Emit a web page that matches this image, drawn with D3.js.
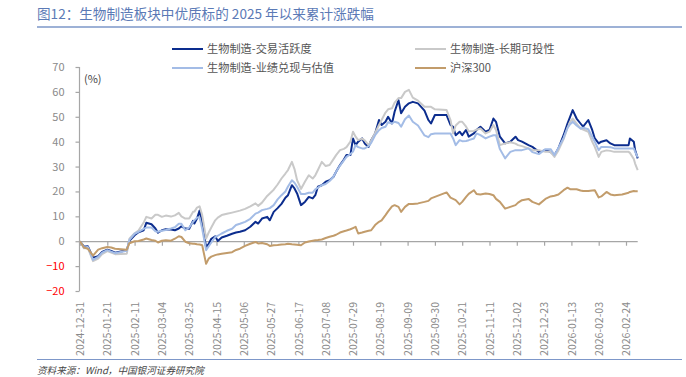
<!DOCTYPE html>
<html lang="zh">
<head>
<meta charset="utf-8">
<script src="https://cdn.jsdelivr.net/npm/d3@7"></script>
<style>
  html, body { margin: 0; padding: 0; background: #fff; }
  svg { display: block; font-family: "Noto Sans CJK SC", "Noto Sans", sans-serif; }
</style>
</head>
<body>
<div id="chart"></div>
<script>
// 1. Data
const dates = [
  "2024-12-31","2025-01-03","2025-01-06","2025-01-10","2025-01-14","2025-01-17","2025-01-21","2025-01-24","2025-01-27","2025-02-05",
  "2025-02-07","2025-02-11","2025-02-14","2025-02-18","2025-02-20","2025-02-24","2025-02-27","2025-03-01","2025-03-04","2025-03-07",
  "2025-03-11","2025-03-14","2025-03-17","2025-03-19","2025-03-22","2025-03-25","2025-03-28","2025-03-29","2025-03-31","2025-04-02",
  "2025-04-04","2025-04-07","2025-04-09","2025-04-11","2025-04-14","2025-04-16","2025-04-19","2025-04-23","2025-04-27","2025-04-30",
  "2025-05-03","2025-05-07","2025-05-11","2025-05-15","2025-05-17","2025-05-20","2025-05-24","2025-05-26","2025-05-29","2025-06-01",
  "2025-06-04","2025-06-07","2025-06-09","2025-06-12","2025-06-14","2025-06-16","2025-06-19","2025-06-22","2025-06-25","2025-06-28",
  "2025-06-30","2025-07-02","2025-07-05","2025-07-08","2025-07-11","2025-07-14","2025-07-16","2025-07-19","2025-07-22","2025-07-24",
  "2025-07-27","2025-07-29","2025-07-31","2025-08-02","2025-08-05","2025-08-07","2025-08-10","2025-08-12","2025-08-15","2025-08-18",
  "2025-08-20","2025-08-23","2025-08-25","2025-08-28","2025-08-30","2025-09-02","2025-09-04","2025-09-07","2025-09-10","2025-09-13",
  "2025-09-17","2025-09-22","2025-09-25","2025-09-27","2025-09-30","2025-10-09","2025-10-12","2025-10-14","2025-10-16","2025-10-19",
  "2025-10-21","2025-10-24","2025-10-26","2025-10-30","2025-11-01","2025-11-04","2025-11-08","2025-11-11","2025-11-14","2025-11-16",
  "2025-11-19","2025-11-23","2025-11-27","2025-12-01","2025-12-03","2025-12-06","2025-12-11","2025-12-14","2025-12-19","2025-12-24",
  "2025-12-28","2025-12-31","2026-01-03","2026-01-07","2026-01-10","2026-01-12","2026-01-14","2026-01-17","2026-01-20","2026-01-22",
  "2026-01-26","2026-01-29","2026-01-31","2026-02-03","2026-02-05","2026-02-09","2026-02-12","2026-02-15","2026-02-21","2026-02-26",
  "2026-02-27","2026-03-02","2026-03-03","2026-03-05"
];

// 生物制造-交易活跃度
const activity = [
  0, -2.2, -2.0, -6.6, -6.0, -4.3, -3.4, -3.9, -4.6, -3.6,
  0.2, 2.4, 3.6, 4.4, 7.4, 6.8, 5.1, 3.4, 4.4, 4.8,
  4.7, 4.4, 5.1, 6.0, 5.1, 5.0, 8.2, 7.1, 9.1, 12.3,
  7.0, -2.4, -1.1, 1.0, 2.0, 0.1, 1.5, 2.2, 3.0, 3.5,
  3.8, 4.4, 5.8, 7.8, 7.1, 9.1, 9.8, 8.4, 11.8, 13.3,
  15.0, 17.5, 18.5, 22.5, 21.2, 19.2, 14.5, 15.8, 17.8, 17.2,
  18.5, 21.9, 22.5, 23.9, 24.5, 25.9, 27.9, 30.6, 32.8, 34.6,
  34.6, 41.3, 38.6, 40.0, 41.3, 39.3, 37.9, 40.6, 43.3, 48.7,
  46.7, 48.0, 50.0, 47.3, 52.0, 56.7, 51.4, 54.0, 55.4, 56.0,
  55.4, 52.5, 48.7, 47.3, 50.7, 50.7, 46.7, 46.0, 42.6, 44.0,
  42.6, 44.7, 42.0, 43.3, 44.7, 46.0, 44.0, 44.7, 49.3, 48.0,
  42.0, 39.3, 40.0, 42.0, 40.6, 40.0, 38.6, 37.9, 35.9, 36.6,
  35.9, 34.6, 37.3, 42.6, 47.3, 50.0, 52.7, 49.3, 47.3, 46.0,
  48.7, 44.7, 41.3, 39.3, 40.0, 40.6, 39.3, 38.6, 38.6, 38.6,
  41.3, 40.0, 36.6, 33.3
];

// 生物制造-长期可投性
const longTerm = [
  0, -2.8, -2.6, -8.0, -7.0, -5.2, -4.0, -4.6, -5.2, -5.0,
  1.0, 3.2, 4.3, 7.5, 9.8, 9.1, 10.6, 10.6, 9.8, 10.3,
  9.9, 10.4, 11.4, 10.0, 9.1, 9.1, 11.8, 11.9, 13.5, 14.0,
  10.5, 1.1, 3.5, 5.5, 8.4, 9.5, 10.5, 11.0, 11.5, 11.9,
  12.3, 13.0, 14.0, 15.2, 14.2, 15.5, 18.2, 19.2, 20.7, 22.8,
  25.2, 27.2, 28.6, 31.9, 29.0, 24.5, 21.0, 23.9, 26.5, 25.2,
  26.5, 28.6, 31.9, 30.2, 30.6, 33.0, 34.6, 36.6, 37.1, 37.8,
  40.0, 44.0, 42.0, 40.6, 41.2, 40.5, 38.6, 40.5, 43.5, 46.7,
  48.7, 51.7, 53.0, 53.4, 55.7, 57.5, 57.5, 60.0, 60.8, 57.7,
  56.5, 54.0, 54.0, 54.0, 53.0, 52.7, 48.7, 43.3, 46.5, 48.0,
  48.0, 46.0, 44.2, 44.3, 44.8, 45.3, 43.3, 44.0, 46.7, 44.7,
  38.6, 39.3, 39.8, 39.2, 38.6, 38.2, 37.3, 36.6, 36.6, 35.9,
  35.9, 33.9, 36.5, 41.0, 45.5, 48.0, 49.3, 47.3, 45.3, 44.9,
  44.0, 40.0, 37.9, 33.9, 35.9, 36.5, 36.3, 35.9, 35.9, 35.9,
  35.5, 33.0, 31.2, 28.6
];

// 生物制造-业绩兑现与估值
const earnings = [
  0, -2.5, -2.3, -7.5, -6.3, -4.6, -3.6, -4.2, -4.8, -3.8,
  0.5, 3.0, 3.8, 5.0, 5.5, 5.5, 4.0, 3.8, 4.2, 4.5,
  5.1, 5.6, 7.0, 7.0, 4.4, 5.5, 7.8, 8.4, 9.5, 9.5,
  5.0, -3.6, -2.0, -0.5, 1.7, 2.2, 3.1, 4.2, 5.0, 6.5,
  7.0, 7.8, 9.0, 11.1, 11.5, 12.5, 13.0, 13.3, 14.5, 16.8,
  18.5, 20.0, 22.0, 24.5, 23.5, 21.9, 19.0, 19.0, 19.5, 19.5,
  20.8, 21.5, 22.5, 23.0, 24.2, 26.0, 27.9, 30.4, 32.5, 33.9,
  35.0, 36.0, 38.6, 37.8, 37.3, 37.3, 38.2, 39.5, 42.6, 44.6,
  45.5, 46.0, 47.8, 47.3, 48.0, 47.5, 46.0, 49.0, 50.5, 48.0,
  46.5, 42.5, 41.8, 43.0, 43.3, 43.3, 43.3, 41.3, 38.6, 40.6,
  40.2, 40.3, 40.6, 41.3, 43.3, 42.6, 41.3, 42.0, 42.6, 42.6,
  37.0, 33.3, 35.9, 36.6, 36.6, 36.6, 37.3, 35.8, 35.0, 37.0,
  37.0, 34.6, 37.5, 41.5, 45.5, 47.0, 48.0, 46.5, 45.3, 45.6,
  45.0, 42.0, 40.0, 36.6, 37.9, 37.9, 37.8, 37.3, 37.3, 37.3,
  37.3, 37.3, 36.0, 33.7
];

// 沪深300
const csi300 = [
  0, -2.5, -3.0, -5.8, -3.4, -2.8, -2.3, -2.5, -3.0, -3.4,
  -0.8, 0.0, 0.1, 0.7, 1.1, 0.5, 0.2, -0.5, 0.2, 0.4,
  0.2, 1.0, 2.0, 1.7, -0.2, -0.8, -1.0, -1.0, -1.2, -1.3,
  -1.6, -9.1, -7.0, -6.2, -5.6, -5.3, -5.0, -4.7, -4.4, -3.5,
  -3.0, -1.9, -1.0, -0.3, -0.9, -0.7, -1.2, -1.9, -1.6, -1.5,
  -1.3, -1.2, -1.0, -1.2, -1.3, -1.4, -1.6, -0.5, -0.1, 0.2,
  0.4, 0.5, 0.7, 1.3, 1.8, 2.2, 2.6, 3.5, 4.0, 4.3,
  4.8, 5.3, 5.8, 3.1, 3.5, 3.8, 4.2, 4.4, 6.5, 7.8,
  8.4, 10.5, 12.0, 14.0, 14.5, 13.8, 11.8, 13.8, 15.0, 15.0,
  15.2, 15.8, 16.2, 17.2, 17.8, 19.6, 17.5, 17.0, 16.5, 14.8,
  15.8, 17.8, 19.0, 20.5, 19.0, 18.8, 19.2, 19.0, 18.5, 17.0,
  15.8, 13.1, 13.8, 14.5, 15.5, 16.5, 17.0, 15.8, 14.8, 17.0,
  18.0, 18.3, 18.8, 20.5, 21.5, 20.9, 20.9, 20.9, 20.4, 20.2,
  20.2, 20.4, 20.5, 17.6, 18.0, 19.8, 18.8, 18.5, 18.8, 19.5,
  19.8, 20.2, 20.1, 20.1
];

const seriesNames = ["生物制造-交易活跃度", "生物制造-长期可投性", "生物制造-业绩兑现与估值", "沪深300"];
const xTickLabels = [
  "2024-12-31","2025-01-21","2025-02-11","2025-03-04","2025-03-25","2025-04-15","2025-05-06",
  "2025-05-27","2025-06-17","2025-07-08","2025-07-29","2025-08-19","2025-09-09","2025-09-30",
  "2025-10-21","2025-11-11","2025-12-02","2025-12-23","2026-01-13","2026-02-03","2026-02-24"
];
const yTicks = [-20, -10, 0, 10, 20, 30, 40, 50, 60, 70];

const titleText = "图12：生物制造板块中优质标的 2025 年以来累计涨跌幅";
const sourceText = "资料来源：Wind，中国银河证券研究院";

// 2. Chart
function renderChart() {
    const width = 686, height = 377;
    const parse = d3.timeParse("%Y-%m-%d");
    const colors = ["#0c2d8e", "#c9c9c9", "#a3bce6", "#c29c6b"];

    const svg = d3.select("#chart").append("svg")
        .attr("width", width)
        .attr("height", height);

    // title + rules
    svg.append("text")
        .attr("x", 37).attr("y", 19)
        .attr("fill", "#5b7ab6")
        .style("font-size", "13.6px")
        .text(titleText);
    svg.append("line")
        .attr("x1", 37).attr("x2", 682).attr("y1", 27).attr("y2", 27)
        .attr("stroke", "#7d97c9").attr("stroke-width", 1.5);
    svg.append("line")
        .attr("x1", 37).attr("x2", 682).attr("y1", 359.5).attr("y2", 359.5)
        .attr("stroke", "#7d97c9").attr("stroke-width", 1.2);
    svg.append("text")
        .attr("x", 37).attr("y", 374)
        .attr("fill", "#444")
        .style("font-size", "9.6px")
        .style("font-style", "italic")
        .text(sourceText);

    const x = d3.scaleTime()
        .domain([parse(dates[0]), parse(dates[dates.length - 1])])
        .range([80, 637.7]);
    const y = d3.scaleLinear().domain([-20, 70]).range([291, 67]);

    // y axis
    const yAxis = svg.append("g")
        .attr("transform", "translate(79.5,0)")
        .call(d3.axisLeft(y).tickValues(yTicks).tickSize(4).tickPadding(11));
    yAxis.selectAll("path, line").attr("stroke", "#a6a6a6").attr("stroke-width", 1.2);
    yAxis.select(".domain").attr("d", `M0,${y(70)}V${y(-20)}`);
    yAxis.selectAll("text")
        .attr("fill", (d) => d < 0 ? "#ff0000" : "#8a8a8a")
        .style("font-size", "11px")
        .style("font-family", "'Noto Sans CJK SC', sans-serif");

    svg.append("text")
        .attr("x", 84).attr("y", 83)
        .attr("fill", "#444")
        .style("font-size", "11px")
        .text("(%)");

    // x axis at zero
    const tickDates = xTickLabels.map(parse);
    const xAxis = svg.append("g")
        .attr("transform", `translate(0,${y(0) + 0.5})`)
        .call(d3.axisBottom(x).tickValues(tickDates).tickSize(4).tickFormat(""));
    xAxis.selectAll("path, line").attr("stroke", "#a6a6a6").attr("stroke-width", 1.2);
    xAxis.select(".domain").attr("d", `M${x.range()[0]},0H${x.range()[1]}`);

    // rotated date labels below the plot
    const xLabels = svg.append("g")
        .attr("transform", "translate(0,300)")
        .call(d3.axisBottom(x).tickValues(tickDates).tickSize(0).tickFormat(d3.timeFormat("%Y-%m-%d")));
    xLabels.select(".domain").remove();
    xLabels.selectAll("text")
        .attr("transform", "rotate(-90)")
        .attr("x", -2).attr("y", 0).attr("dy", "0.35em")
        .style("text-anchor", "end")
        .attr("fill", "#8a8a8a")
        .style("font-size", "10.5px")
        .style("font-family", "'Noto Sans CJK SC', sans-serif");

    // lines
    const series = [activity, longTerm, earnings, csi300].map((values, i) => ({
        name: seriesNames[i],
        color: colors[i],
        points: values.map((v, j) => ({ date: parse(dates[j]), value: v }))
    }));

    const line = d3.line()
        .x(p => x(p.date))
        .y(p => y(p.value));

    svg.append("g").selectAll("path")
        .data(series)
        .enter()
        .append("path")
        .attr("fill", "none")
        .attr("stroke", s => s.color)
        .attr("stroke-width", 2)
        .attr("stroke-linejoin", "round")
        .attr("d", s => line(s.points));

    // legend, two columns
    const legend = svg.append("g").selectAll("g")
        .data(series)
        .enter()
        .append("g")
        .attr("transform", (s, i) => `translate(${i % 2 === 0 ? 172 : 415},${i < 2 ? 49 : 68})`);
    legend.append("line")
        .attr("x1", 0).attr("x2", 31)
        .attr("stroke", s => s.color)
        .attr("stroke-width", 2);
    legend.append("text")
        .attr("x", 35).attr("dy", "0.35em")
        .attr("fill", "#555")
        .style("font-size", "11.2px")
        .text(s => s.name);
}

document.addEventListener("DOMContentLoaded", renderChart);
</script>
</body>
</html>
